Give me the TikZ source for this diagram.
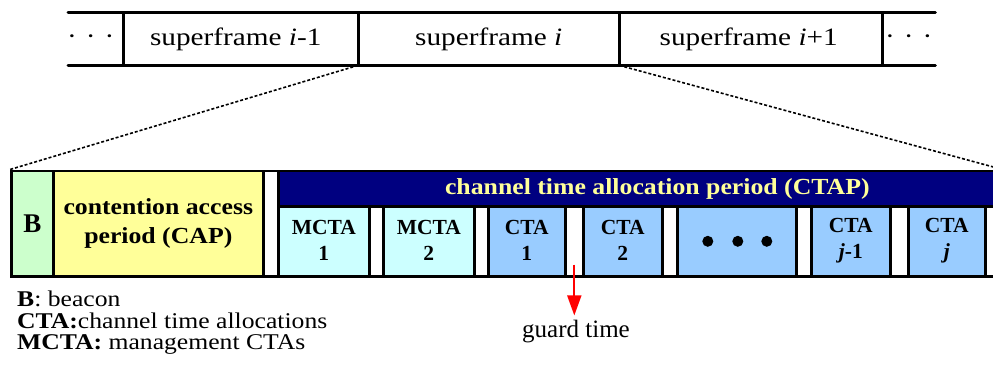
\documentclass[tikz,border=0pt]{standalone}
\usepackage{fontspec}
\setmainfont{Liberation Serif}
\newfontfamily\topfont[FakeStretch=1.17]{Liberation Serif}
\newfontfamily\boxfont[FakeStretch=1.12]{Liberation Serif}
\newfontfamily\keyfont[FakeStretch=1.14]{Liberation Serif}
\usetikzlibrary{arrows.meta,calc}
\definecolor{headfill}{RGB}{0,0,128}
\definecolor{headtext}{RGB}{255,255,153}
\definecolor{beaconfill}{RGB}{204,255,204}
\definecolor{capfill}{RGB}{255,255,153}
\definecolor{mctafill}{RGB}{204,255,255}
\definecolor{ctafill}{RGB}{153,204,255}
\newcommand{\spreaddots}{\textperiodcentered\hspace{9pt}\textperiodcentered\hspace{9pt}\textperiodcentered}
\tikzset{
  sfcell/.style={inner sep=0pt, minimum height=52pt, anchor=north west,
    font=\topfont\fontsize{25}{28}\selectfont},
  bar/.style={line width=3pt},
  slot/.style={draw=black, line width=2.6pt, inner sep=0pt, anchor=north west,
    align=center, minimum height=70pt},
  slottext/.style={font=\fontsize{21.5}{26}\selectfont\bfseries, align=center,
    inner sep=0pt},
  mcta/.style={slot, fill=mctafill, minimum width=91pt},
  cta/.style={slot, fill=ctafill},
  zoomline/.style={line width=1.6pt, dash pattern=on 3pt off 2pt},
  legend/.style={anchor=north west, align=left, inner sep=0pt,
    font=\keyfont\fontsize{22.5}{21.3}\selectfont},
}
\begin{document}
\begin{tikzpicture}[x=1pt,y=-1pt]
\useasboundingbox (0,0) rectangle (993,369);
\clip (0,0) rectangle (993,369);

% superframe sequence
\node[sfcell, minimum width=55pt]  (dl) at (68,13)  {\hspace*{-10pt}\spreaddots};
\node[sfcell, minimum width=235pt] (sp) at (123,13) {\hspace*{-10pt}superframe \textit{i}-1};
\node[sfcell, minimum width=261pt] (si) at (358,13) {superframe \textit{i}};
\node[sfcell, minimum width=263pt] (sn) at (619,13) {\hspace*{-4pt}superframe \textit{i}+1};
\node[sfcell, minimum width=53pt]  (dr) at (882,13) {\spreaddots};
\draw[bar, line cap=round] (dl.north west) -- (dr.north east);
\draw[bar, line cap=round] (dl.south west) -- (dr.south east);
\foreach \c in {sp,si,sn,dr} \draw[bar] (\c.north west) -- (\c.south west);

% superframe layout
\node[slot, minimum width=990pt, minimum height=105.5pt] (frame) at (10,169.5) {};
\node[slot, fill=beaconfill, minimum width=42pt, minimum height=105.5pt,
  font=\fontsize{27}{28}\selectfont\bfseries] (b) at (10,169.5) {B};
\node[slot, fill=capfill, minimum width=210pt, minimum height=105.5pt,
  font=\boxfont\fontsize{23}{28.5}\selectfont\bfseries] (cap) at (52,169.5)
  {contention access\\period (CAP)};
\node[slot, fill=headfill, minimum width=723pt, minimum height=35.5pt, text=headtext,
  font=\boxfont\fontsize{23}{26}\selectfont\bfseries] (ctap) at (277,169.5)
  {\hspace*{35pt}channel time allocation period (CTAP)};

\node[mcta] (m1) at (277,205) {};
\node[mcta] (m2) at (382,205) {};
\node[cta, minimum width=77pt] (c1) at (487,205) {};
\node[cta, minimum width=79pt] (c2) at (582,205) {};
\node[cta, minimum width=119pt] (dots) at (676,205) {};
\node[cta, minimum width=79pt] (cj1) at (810,205) {};
\node[cta, minimum width=77pt] (cj) at (907,205) {};
\foreach \s/\t in {m1/{MCTA\\1}, m2/{MCTA\\2}, c1/{CTA\\1}, c2/{CTA\\2},
                   cj1/{CTA\\\textit{j}-1}, cj/{CTA\\\textit{j}}}
  \node[slottext] (\s-label) at ([yshift=1pt]\s.center) {\t};
\foreach \dx in {-29,1,30} \fill ([xshift=\dx pt]dots.center) circle (5.5pt);

% zoom lines from superframe i to its layout
\draw[zoomline] (si.south west) -- (frame.north west);
\draw[zoomline] (si.south east) -- (frame.north east);

% guard time marker
\coordinate (gap) at ($(c1.south east)!0.5!(c2.south west)$);
\coordinate (gapin) at ([yshift=13pt]gap);
\node[font=\fontsize{25}{27}\selectfont, inner sep=1pt] (guard) at (576,332) {guard time};
\draw[red, line width=1.8pt, -{Triangle[width=14pt,length=20pt]}] (gapin) -- ([yshift=4pt]gapin |- guard.north);

% legend
\node[legend] (key) at (17,291)
  {\textbf{B}: beacon\\\textbf{CTA:}channel time allocations\\\textbf{MCTA:} management CTAs};
\end{tikzpicture}
\end{document}
